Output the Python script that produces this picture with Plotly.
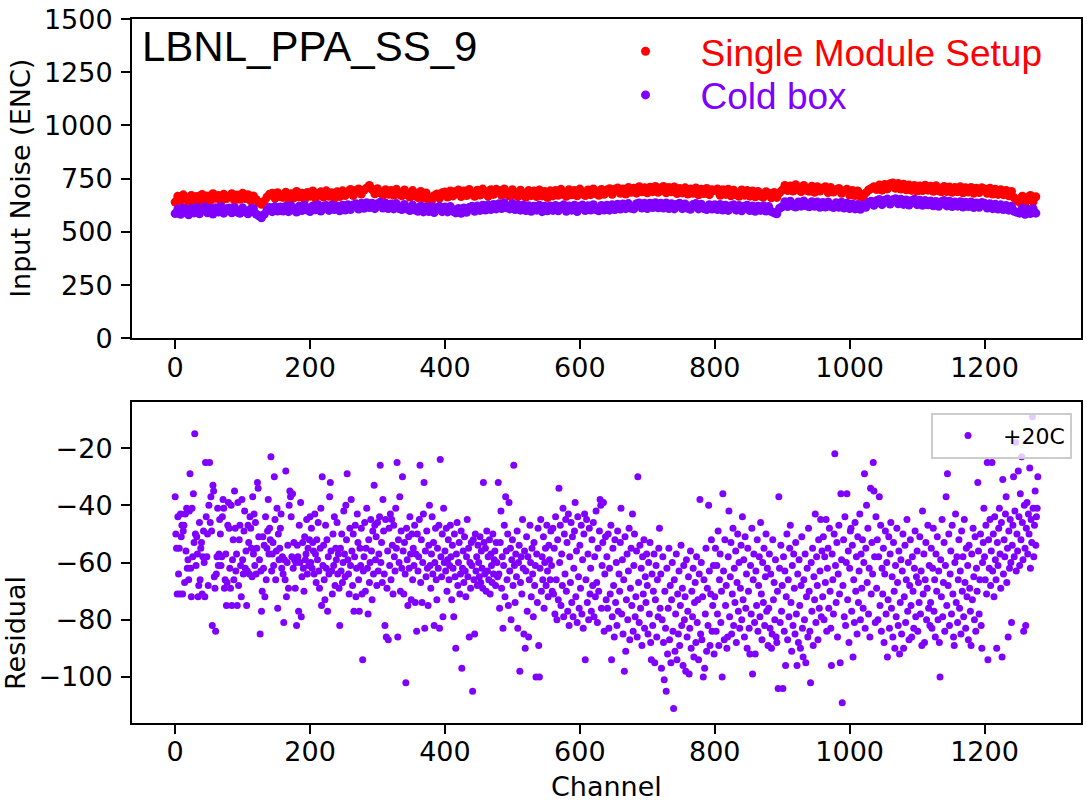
import plotly.graph_objects as go

# ---------------- data ----------------
TITLE_TEXT = "LBNL_PPA_SS_9"
SERIES_NAMES = ["Single Module Setup", "Cold box"]
RESIDUAL_NAME = "+20C"
X_TICKS = [0, 200, 400, 600, 800, 1000, 1200]
TOP_Y_TICKS = [0, 250, 500, 750, 1000, 1250, 1500]
BOTTOM_Y_TICKS = [-100, -80, -60, -40, -20]
TOP_CHANNEL_STEP = 4  # top band sampled every 4th channel

# Single Module Setup noise (ENC), channels 0,4,8,...,1276
SINGLE_MODULE = [
    640, 668, 647, 674, 656, 637, 671, 650, 666, 643, 676, 655, 669, 646, 679, 658, 671, 644, 677, 656,
    668, 679, 648, 673, 653, 681, 657, 675, 646, 669, 652, 638, 630, 644, 663, 677, 681, 659, 684, 665,
    662, 686, 655, 679, 660, 690, 664, 682, 653, 685, 668, 692, 658, 681, 688, 663, 693, 667, 684, 659,
    688, 666, 693, 671, 690, 699, 671, 694, 702, 678, 697, 706, 718, 700, 679, 703, 684, 673, 698, 677,
    695, 672, 700, 676, 669, 697, 674, 664, 694, 670, 661, 690, 658, 683, 651, 646, 670, 678, 659, 684,
    687, 664, 692, 669, 690, 697, 666, 692, 671, 699, 676, 667, 696, 673, 701, 680, 668, 698, 676, 700,
    694, 672, 702, 677, 668, 698, 675, 666, 696, 672, 663, 694, 671, 692, 666, 697, 669, 690, 661, 693,
    669, 695, 672, 700, 676, 667, 698, 674, 695, 670, 701, 678, 671, 697, 675, 702, 680, 672, 699, 677,
    697, 703, 677, 700, 706, 681, 702, 678, 708, 686, 705, 682, 712, 688, 707, 684, 710, 689, 713, 686,
    706, 713, 684, 708, 688, 711, 680, 704, 683, 707, 678, 702, 681, 706, 674, 700, 680, 704, 675, 698,
    694, 702, 672, 698, 676, 700, 670, 696, 674, 667, 697, 672, 694, 668, 692, 665, 690, 668, 663, 689,
    682, 660, 685, 662, 684, 696, 718, 694, 716, 692, 722, 697, 689, 718, 695, 691, 715, 686, 712, 692,
    705, 712, 685, 708, 687, 697, 704, 681, 693, 700, 673, 695, 671, 692, 667, 662, 683, 697, 704, 712,
    699, 720, 696, 723, 702, 726, 730, 705, 727, 701, 724, 698, 720, 695, 718, 692, 716, 694, 719, 696,
    714, 691, 717, 693, 688, 713, 690, 711, 686, 708, 689, 712, 684, 707, 687, 709, 682, 705, 685, 707,
    702, 681, 705, 678, 700, 676, 698, 675, 695, 670, 690, 660, 648, 639, 668, 636, 662, 671, 642, 665,
]

# Cold box noise (ENC), channels 0,4,8,...,1276
COLD_BOX = [
    586, 608, 583, 612, 591, 580, 610, 589, 615, 585, 607, 617, 590, 611, 584, 613, 593, 618, 588, 609,
    612, 590, 615, 593, 587, 613, 594, 585, 607, 610, 584, 576, 566, 582, 601, 615, 595, 619, 598, 617,
    598, 620, 595, 623, 602, 593, 621, 600, 625, 603, 596, 622, 604, 627, 598, 620, 624, 601, 626, 605,
    622, 599, 625, 603, 628, 605, 626, 632, 607, 634, 611, 637, 614, 635, 609, 632, 639, 612, 634, 610,
    631, 608, 633, 610, 605, 629, 607, 600, 626, 603, 597, 622, 594, 617, 596, 619, 591, 615, 620, 595,
    617, 594, 619, 597, 589, 610, 587, 612, 592, 615, 620, 597, 622, 601, 625, 603, 627, 605, 629, 608,
    632, 610, 636, 613, 608, 633, 605, 628, 602, 626, 600, 623, 597, 621, 602, 625, 595, 620, 599, 622,
    601, 624, 599, 621, 627, 597, 622, 602, 625, 596, 620, 626, 600, 623, 603, 628, 605, 599, 624, 603,
    625, 602, 627, 605, 630, 607, 631, 609, 633, 611, 608, 632, 636, 612, 634, 610, 635, 614, 637, 613,
    634, 612, 636, 610, 632, 608, 630, 634, 609, 631, 611, 606, 629, 633, 608, 630, 610, 605, 628, 607,
    627, 605, 629, 603, 625, 601, 623, 627, 602, 624, 599, 621, 625, 600, 622, 597, 620, 601, 623, 598,
    619, 596, 589, 585, 611, 618, 642, 619, 644, 622, 617, 641, 621, 645, 623, 618, 642, 620, 640, 616,
    638, 617, 641, 619, 614, 637, 616, 639, 612, 634, 610, 631, 608, 629, 606, 627, 616, 638, 644, 625,
    646, 652, 628, 649, 654, 631, 651, 656, 632, 653, 629, 650, 626, 648, 653, 628, 649, 625, 647, 627,
    645, 623, 643, 620, 642, 648, 622, 644, 619, 640, 621, 642, 617, 639, 619, 641, 614, 636, 616, 638,
    634, 612, 632, 609, 630, 607, 627, 605, 624, 602, 620, 597, 592, 588, 611, 583, 606, 586, 609, 588,
]

# Residual, channels 0..1279
RESIDUAL = [
    -37, -50, -55, -71, -44, -64, -55, -71, -43, -51, -47, -71, -49, -47, -67, -43, -56, -41, -62, -59,
    -66, -42, -29, -62, -72, -41, -58, -36, -53, -15, -50, -61, -51, -57, -72, -68, -46, -66, -55, -53,
    -71, -58, -49, -60, -72, -25, -44, -58, -50, -68, -40, -25, -46, -37, -49, -82, -33, -35, -65, -69,
    -84, -64, -58, -41, -61, -57, -45, -50, -61, -58, -44, -38, -41, -69, -66, -57, -75, -67, -47, -39,
    -48, -62, -69, -40, -75, -59, -52, -66, -35, -48, -63, -57, -75, -39, -68, -52, -47, -61, -72, -38,
    -59, -64, -49, -42, -62, -56, -75, -63, -47, -53, -64, -44, -48, -55, -65, -37, -57, -43, -61, -46,
    -64, -55, -32, -34, -51, -59, -85, -63, -77, -70, -51, -62, -54, -72, -44, -66, -55, -49, -38, -57,
    -48, -52, -23, -63, -57, -53, -61, -30, -45, -66, -56, -41, -76, -50, -59, -55, -48, -43, -62, -58,
    -64, -81, -59, -66, -28, -72, -60, -54, -69, -40, -35, -37, -44, -58, -36, -62, -53, -59, -69, -60,
    -82, -54, -58, -77, -47, -60, -39, -79, -65, -53, -62, -70, -51, -59, -57, -45, -64, -55, -61, -52,
    -44, -60, -48, -62, -53, -56, -64, -43, -57, -67, -52, -59, -46, -63, -69, -55, -41, -75, -30, -61,
    -54, -66, -73, -47, -62, -52, -77, -58, -64, -37, -32, -56, -63, -71, -50, -61, -44, -68, -55, -59,
    -46, -64, -57, -69, -82, -55, -63, -50, -67, -60, -42, -57, -65, -40, -52, -29, -59, -64, -71, -48,
    -61, -38, -56, -68, -50, -77, -58, -47, -72, -62, -43, -53, -66, -77, -55, -61, -48, -71, -94, -63,
    -58, -46, -70, -55, -41, -62, -78, -52, -67, -60, -45, -56, -73, -49, -64, -33, -47, -59, -51, -68,
    -46, -63, -57, -44, -26, -60, -53, -67, -38, -49, -64, -82, -45, -86, -69, -56, -87, -48, -61, -43,
    -66, -45, -54, -71, -47, -58, -63, -41, -55, -25, -86, -52, -60, -37, -70, -49, -62, -30, -56, -71,
    -53, -64, -102, -48, -59, -75, -51, -62, -44, -57, -73, -50, -66, -55, -61, -47, -74, -57, -84, -50,
    -63, -58, -45, -26, -67, -52, -74, -60, -43, -32, -83, -56, -65, -49, -62, -75, -54, -40, -61, -69,
    -57, -44, -64, -53, -82, -60, -48, -66, -73, -55, -62, -47, -83, -24, -58, -65, -50, -79, -41, -60,
    -56, -63, -48, -70, -59, -52, -66, -61, -47, -58, -73, -54, -62, -79, -50, -65, -90, -57, -46, -68,
    -60, -53, -71, -64, -49, -97, -62, -56, -67, -51, -63, -72, -58, -45, -65, -55, -86, -60, -69, -53,
    -61, -105, -52, -66, -85, -50, -63, -58, -68, -54, -60, -65, -51, -67, -56, -62, -69, -32, -53, -64,
    -55, -70, -49, -63, -58, -66, -52, -71, -57, -61, -67, -50, -64, -59, -56, -68, -53, -60, -65, -32,
    -64, -76, -53, -42, -69, -58, -83, -61, -47, -72, -37, -56, -66, -50, -75, -39, -63, -55, -80, -59,
    -52, -68, -26, -61, -74, -57, -65, -49, -83, -60, -54, -98, -67, -58, -71, -45, -62, -85, -56, -90,
    -63, -51, -77, -58, -86, -66, -47, -60, -72, -55, -64, -79, -53, -68, -61, -100, -57, -74, -48, -89,
    -100, -62, -45, -70, -58, -66, -51, -76, -60, -55, -68, -47, -63, -72, -54, -59, -66, -49, -61, -70,
    -48, -71, -55, -78, -44, -66, -80, -52, -73, -34, -60, -47, -75, -57, -68, -41, -79, -50, -64, -45,
    -70, -53, -77, -43, -82, -58, -67, -46, -74, -51, -79, -62, -49, -39, -72, -56, -81, -44, -65, -76,
    -54, -69, -47, -78, -59, -83, -50, -43, -94, -66, -45, -74, -57, -80, -48, -71, -62, -77, -52, -68,
    -46, -79, -58, -72, -42, -67, -81, -55, -70, -49, -38, -40, -76, -61, -53, -39, -84, -64, -51, -73,
    -58, -76, -50, -83, -62, -71, -47, -94, -79, -55, -68, -86, -52, -74, -60, -82, -49, -77, -64, -70,
    -53, -41, -78, -59, -85, -66, -98, -51, -91, -73, -57, -80, -63, -48, -87, -69, -55, -75, -43, -84,
    -61, -50, -79, -72, -56, -86, -30, -67, -81, -54, -76, -62, -89, -58, -71, -52, -83, -65, -74, -57,
    -68, -85, -60, -78, -53, -88, -94, -64, -82, -70, -57, -95, -73, -61, -86, -66, -79, -55, -48, -76,
    -64, -97, -80, -58, -88, -101, -70, -83, -105, -62, -92, -76, -55, -87, -68, -95, -73, -60, -84, -111,
    -66, -91, -78, -57, -94, -71, -85, -63, -89, -75, -54, -82, -69, -96, -61, -80, -72, -98, -59, -86,
    -77, -65, -99, -83, -56, -90, -70, -79, -62, -93, -74, -67, -88, -58, -81, -73, -94, -64, -38, -85,
    -60, -87, -72, -100, -66, -97, -78, -55, -91, -69, -82, -40, -63, -89, -71, -52, -84, -75, -61, -92,
    -72, -55, -84, -61, -78, -49, -89, -66, -57, -81, -70, -100, -36, -63, -87, -52, -75, -68, -90, -86,
    -58, -42, -79, -65, -53, -85, -71, -48, -82, -62, -74, -56, -88, -67, -50, -77, -60, -83, -69, -54,
    -80, -44, -73, -59, -86, -51, -76, -64, -90, -55, -70, -83, -92, -61, -78, -48, -99, -66, -57, -81,
    -92, -63, -75, -52, -84, -68, -58, -79, -46, -71, -87, -60, -74, -55, -82, -65, -50, -77, -62, -89,
    -76, -57, -83, -64, -90, -85, -52, -73, -67, -80, -59, -86, -88, -70, -104, -37, -62, -81, -54, -77,
    -68, -104, -58, -84, -63, -96, -72, -50, -87, -66, -79, -55, -47, -74, -91, -61, -82, -57, -69, -85,
    -53, -78, -96, -64, -88, -59, -75, -90, -68, -51, -83, -93, -66, -80, -57, -95, -72, -62, -86, -48,
    -70, -84, -102, -60, -77, -55, -89, -65, -73, -43, -81, -58, -68, -87, -52, -76, -63, -45, -79, -56,
    -72, -51, -80, -58, -67, -45, -84, -62, -55, -76, -48, -70, -83, -96, -57, -66, -78, -50, -22, -61,
    -74, -53, -86, -64, -47, -71, -95, -36, -59, -109, -68, -52, -79, -44, -82, -60, -36, -73, -56, -88,
    -62, -49, -48, -77, -54, -93, -66, -81, -46, -70, -58, -85, -51, -74, -63, -43, -80, -57, -69, -52,
    -76, -60, -29, -83, -55, -40, -67, -48, -78, -62, -86, -34, -71, -53, -64, -25, -35, -58, -81, -44,
    -69, -52, -80, -58, -37, -75, -47, -84, -62, -71, -55, -88, -64, -49, -78, -60, -93, -73, -51, -83,
    -57, -46, -76, -65, -86, -53, -70, -90, -61, -79, -48, -67, -82, -56, -92, -74, -59, -85, -63, -50,
    -90, -72, -54, -81, -66, -45, -77, -60, -87, -68, -52, -75, -86, -58, -70, -83, -62, -49, -79, -65,
    -56, -84, -67, -74, -51, -78, -63, -89, -42, -71, -57, -88, -66, -53, -80, -69, -47, -76, -61, -82,
    -74, -55, -83, -62, -48, -77, -66, -86, -57, -70, -51, -80, -63, -88, -100, -59, -72, -45, -79, -67,
    -53, -84, -61, -37, -75, -29, -68, -50, -82, -64, -56, -78, -47, -71, -86, -89, -60, -43, -74, -58,
    -81, -66, -52, -76, -63, -85, -49, -70, -58, -79, -45, -67, -83, -55, -72, -61, -87, -54, -69, -77,
    -89, -57, -73, -48, -65, -80, -51, -84, -62, -70, -32, -56, -78, -66, -50, -82, -90, -60, -53, -41,
    -58, -66, -47, -71, -25, -94, -52, -62, -45, -68, -56, -25, -63, -50, -72, -44, -59, -66, -90, -53,
    -61, -48, -41, -57, -69, -46, -93, -31, -64, -52, -58, -43, -37, -67, -55, -86, -49, -62, -45, -60,
    -81, -54, -47, -30, -58, -42, -18, -63, -50, -56, -28, -44, -61, -36, -52, -23, -46, -59, -84, -40,
    -55, -82, -48, -39, -57, -43, -50, -27, -62, -45, -53, -9, -41, -58, -47, -35, -54, -44, -41, -30,
]

# ---------------- styling ----------------
RED = "#ff0000"
PURPLE = "#7f00ff"
TICK_FONT = dict(family="DejaVu Sans", size=27, color="black")
W, H = 1087, 801
ML, MR, MT, MB = 132, 4, 13, 78
PW, PH = W - ML - MR, H - MT - MB


def px_x(px):
    return (px - ML) / PW


def px_y(py):
    return (H - MB - py) / PH


top_x_single = list(range(0, TOP_CHANNEL_STEP * len(SINGLE_MODULE), TOP_CHANNEL_STEP))
top_x_cold = list(range(0, TOP_CHANNEL_STEP * len(COLD_BOX), TOP_CHANNEL_STEP))
res_x = list(range(len(RESIDUAL)))

fig = go.Figure()
fig.add_trace(go.Scatter(
    x=top_x_single, y=SINGLE_MODULE, mode="markers", name=SERIES_NAMES[0],
    marker=dict(color=RED, size=9, line=dict(width=0)),
    xaxis="x", yaxis="y", legend="legend",
))
fig.add_trace(go.Scatter(
    x=top_x_cold, y=COLD_BOX, mode="markers", name=SERIES_NAMES[1],
    marker=dict(color=PURPLE, size=9, line=dict(width=0)),
    xaxis="x", yaxis="y", legend="legend3",
))
fig.add_trace(go.Scatter(
    x=res_x, y=RESIDUAL, mode="markers", name=RESIDUAL_NAME,
    marker=dict(color=PURPLE, size=7, line=dict(width=0)),
    xaxis="x2", yaxis="y2", legend="legend2",
))

axis_common = dict(
    showline=True, linecolor="black", linewidth=2, mirror=True,
    ticks="outside", ticklen=9, tickwidth=2, tickcolor="black",
    showgrid=False, zeroline=False, tickfont=TICK_FONT,
    ticklabeloverflow="allow",
)

top_dom = [px_y(335), 1.0]
bot_dom = [0.0, px_y(399.3)]

fig.update_layout(
    width=W, height=H,
    margin=dict(l=ML, r=MR, t=MT, b=MB),
    paper_bgcolor="white", plot_bgcolor="white",
    showlegend=True,
    xaxis=dict(domain=[0, 1], anchor="y", range=[-64, 1343], tickvals=X_TICKS,
               ticklabelstandoff=-5, **axis_common),
    yaxis=dict(domain=top_dom, anchor="x", range=[-0.01, 1500.4], tickvals=TOP_Y_TICKS,
               ticklabelstandoff=3, **axis_common),
    xaxis2=dict(domain=[0, 1], anchor="y2", range=[-64, 1343], tickvals=X_TICKS,
                ticklabelstandoff=-5, **axis_common),
    yaxis2=dict(domain=bot_dom, anchor="x2", range=[-116.1, -3.9], tickvals=BOTTOM_Y_TICKS,
                ticklabelstandoff=3, **axis_common),
    legend=dict(
        x=px_x(591.5), xanchor="left", y=px_y(46), yanchor="middle",
        font=dict(family="Liberation Sans", size=37, color=RED),
        bgcolor="rgba(0,0,0,0)", borderwidth=0, itemwidth=100,
    ),
    legend3=dict(
        x=px_x(591.5), xanchor="left", y=px_y(90), yanchor="middle",
        font=dict(family="Liberation Sans", size=37, color=PURPLE),
        bgcolor="rgba(0,0,0,0)", borderwidth=0, itemwidth=100,
    ),
    legend2=dict(
        x=px_x(1074), xanchor="right", y=px_y(410), yanchor="top",
        font=dict(family="DejaVu Sans", size=22, color="black"),
        bgcolor="rgba(255,255,255,0.8)", bordercolor="#cccccc", borderwidth=2,
        itemwidth=60,
    ),
    annotations=[
        dict(text=TITLE_TEXT, xref="paper", yref="paper", x=px_x(140), y=px_y(41),
             xanchor="left", yanchor="middle", showarrow=False,
             font=dict(family="Liberation Sans", size=42, color="black")),
        dict(text="Input Noise (ENC)", xref="paper", yref="paper", x=px_x(20), y=px_y(174),
             xanchor="center", yanchor="middle", textangle=-90, showarrow=False,
             font=dict(family="DejaVu Sans", size=27, color="black")),
        dict(text="Residual", xref="paper", yref="paper", x=px_x(16), y=px_y(632),
             xanchor="center", yanchor="middle", textangle=-90, showarrow=False,
             font=dict(family="DejaVu Sans", size=27, color="black")),
        dict(text="Channel", xref="paper", yref="paper", x=px_x(608), y=px_y(787),
             xanchor="center", yanchor="middle", showarrow=False,
             font=dict(family="DejaVu Sans", size=27, color="black")),
    ],
)

fig.write_html(
    "out.html",
    config={"displayModeBar": False},
    post_script="document.body.style.margin='0px';document.body.style.overflow='hidden';",
)
